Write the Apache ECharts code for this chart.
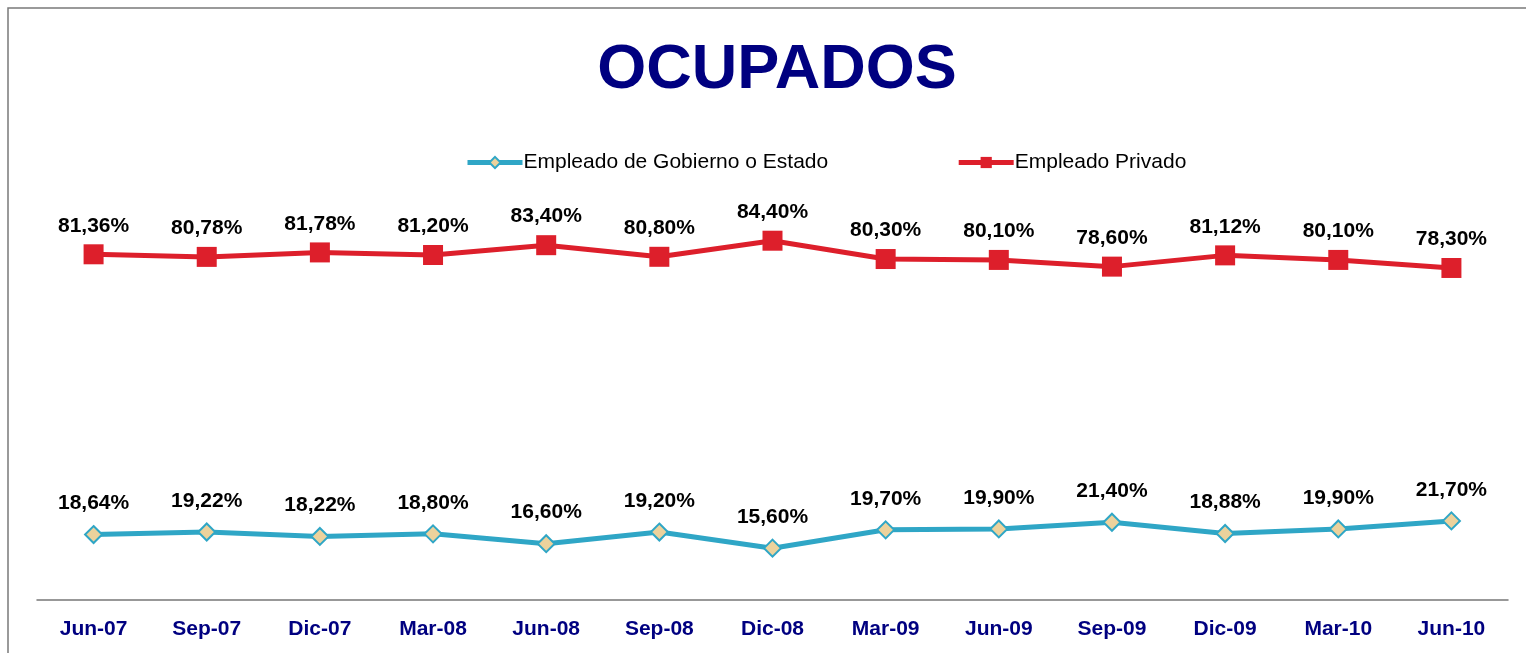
<!DOCTYPE html>
<html>
<head>
<meta charset="utf-8">
<title>OCUPADOS</title>
<script src="https://cdn.jsdelivr.net/npm/echarts@6/dist/echarts.min.js"></script>
<style>
    html, body { margin: 0; padding: 0; background: #fff; }
    #chart { width: 1526px; height: 653px; }
</style>
</head>
<body>
<div id="chart"></div>
<script>
// data
let periods = ['Jun-07', 'Sep-07', 'Dic-07', 'Mar-08', 'Jun-08', 'Sep-08', 'Dic-08',
    'Mar-09', 'Jun-09', 'Sep-09', 'Dic-09', 'Mar-10', 'Jun-10'];
let gobierno = [18.64, 19.22, 18.22, 18.80, 16.60, 19.20, 15.60, 19.70, 19.90, 21.40, 18.88, 19.90, 21.70];
let privado = [81.36, 80.78, 81.78, 81.20, 83.40, 80.80, 84.40, 80.30, 80.10, 78.60, 81.12, 80.10, 78.30];
let seriesNames = ['Empleado de Gobierno o Estado', 'Empleado Privado'];

let fontName = 'Liberation Sans, Arial, sans-serif';

function pct(p) {
    return p.value.toFixed(2).replace('.', ',') + '%';
}

let chartElem = document.getElementById('chart');
let chart = echarts.init(chartElem);
chart.setOption({
    animation: false,
    graphic: [{
        type: 'polyline',
        shape: { points: [[8, 653], [8, 8], [1526, 8]] },
        style: { stroke: '#7a7a7a', lineWidth: 1.5, fill: null }
    }],
    title: {
        text: 'OCUPADOS',
        left: 772,
        textAlign: 'center',
        top: 34,
        textStyle: {
            fontFamily: fontName,
            fontSize: 63,
            fontWeight: 'bold',
            color: '#000080'
        }
    },
    legend: {
        left: 460,
        top: 147,
        itemWidth: 55,
        itemHeight: 14,
        itemGap: 128,
        data: seriesNames,
        lineStyle: { width: 5 },
        textStyle: {
            fontFamily: fontName,
            fontSize: 21,
            color: '#000',
            padding: [0, 0, 0, -4]
        }
    },
    grid: {
        left: 37,
        right: 18,
        top: 171,
        bottom: 53,
        containLabel: false
    },
    xAxis: {
        type: 'category',
        data: periods,
        boundaryGap: true,
        axisTick: { show: false },
        axisLine: { lineStyle: { color: '#777', width: 1.5 } },
        axisLabel: {
            margin: 19,
            fontFamily: fontName,
            fontSize: 21,
            fontWeight: 'bold',
            color: '#000080'
        }
    },
    yAxis: {
        type: 'value',
        min: 4,
        max: 100,
        show: false,
        splitLine: { show: false }
    },
    series: [{
        name: seriesNames[0],
        type: 'line',
        data: gobierno,
        symbol: 'diamond',
        symbolSize: 17,
        lineStyle: { color: '#2fa6c6', width: 5 },
        itemStyle: { color: '#ecd29c', borderColor: '#2fa6c6', borderWidth: 2 },
        label: {
            show: true,
            position: 'top',
            distance: 11,
            formatter: pct,
            fontFamily: fontName,
            fontSize: 21,
            fontWeight: 'bold',
            color: '#000'
        }
    }, {
        name: seriesNames[1],
        type: 'line',
        data: privado,
        symbol: 'rect',
        symbolSize: 20,
        lineStyle: { color: '#dd1f2b', width: 5 },
        itemStyle: { color: '#dd1f2b' },
        label: {
            show: true,
            position: 'top',
            distance: 8,
            formatter: pct,
            fontFamily: fontName,
            fontSize: 21,
            fontWeight: 'bold',
            color: '#000'
        }
    }]
});
</script>
</body>
</html>
